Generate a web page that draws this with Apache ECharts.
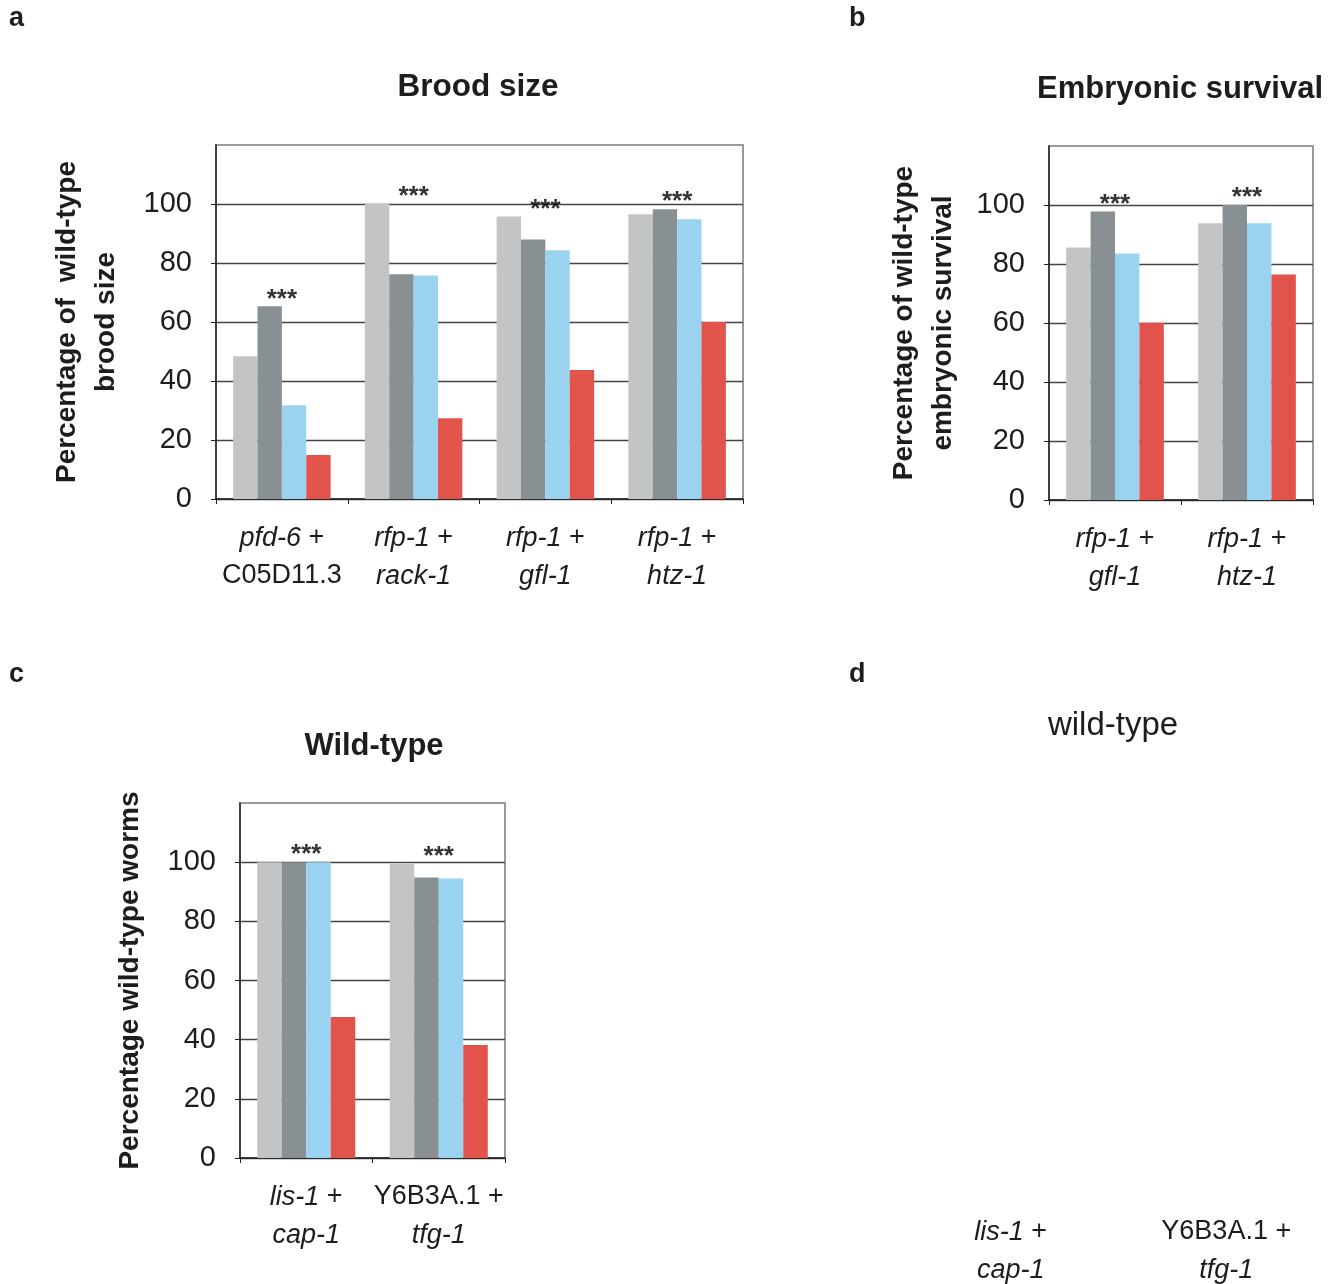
<!DOCTYPE html>
<html><head><meta charset="utf-8">
<script src="https://cdn.jsdelivr.net/npm/echarts@6/dist/echarts.min.js"></script>
<style>html,body{margin:0;padding:0;background:#fff}#c{width:1334px;height:1284px}</style>
</head><body><div id="c"></div>
<script>
// ---------- data ----------
const seriesNames = ['control', 'RNAi 1', 'RNAi 2', 'double RNAi'];
const colors = ['#c3c4c6', '#899093', '#9ad3f0', '#e2534b'];
const yTicks = [0, 20, 40, 60, 80, 100];

const catsA = ['pfd-6 + C05D11.3', 'rfp-1 + rack-1', 'rfp-1 + gfl-1', 'rfp-1 + htz-1'];
const a1 = [48.4, 100, 95.8, 96.5];
const a2 = [65.3, 76.2, 88.0, 98.2];
const a3 = [31.8, 75.8, 84.3, 94.8];
const a4 = [14.9, 27.4, 43.7, 60.0];
const sigA = ['***', '***', '***', '***'];

const catsB = ['rfp-1 + gfl-1', 'rfp-1 + htz-1'];
const b1 = [85.6, 93.8];
const b2 = [97.8, 100];
const b3 = [83.6, 93.8];
const b4 = [60.1, 76.4];
const sigB = ['***', '***'];

const catsC = ['lis-1 + cap-1', 'Y6B3A.1 + tfg-1'];
const c1 = [100, 99.5];
const c2 = [100, 94.8];
const c3 = [100, 94.5];
const c4 = [47.7, 38.2];
const sigC = ['***', '***'];

const catsD = ['lis-1 + cap-1', 'Y6B3A.1 + tfg-1'];

// ---------- helpers ----------
const FF = '"Liberation Sans", Arial, Helvetica, sans-serif';
const TXT = '#1e1c1d';
function catFormatter(v) {
  const parts = v.split(' + ');
  const st = s => /^[a-z]/.test(s) ? 'i' : 'r';
  return '{' + st(parts[0]) + '|' + parts[0] + '}{r| +}\n{' + st(parts[1]) + '|' + parts[1] + '}';
}
const rich = {
  i: { fontStyle: 'italic', fontSize: 27, fontFamily: FF, color: TXT, lineHeight: 38 },
  r: { fontStyle: 'normal', fontSize: 27, fontFamily: FF, color: TXT, lineHeight: 38 }
};

const grids = [], xAxes = [], yAxes = [], series = [];
function panel(rect, cats, vals, sig, yName, nameGap) {
  const gi = grids.length;
  grids.push(Object.assign({ show: true, borderColor: '#9a9a9a', borderWidth: 2, backgroundColor: 'transparent' }, rect));
  xAxes.push({
    type: 'category', gridIndex: gi, data: cats, boundaryGap: true,
    axisLine: { show: true, lineStyle: { color: '#222', width: 1.5 } },
    axisTick: { show: true, length: 5, inside: false, lineStyle: { color: '#222', width: 1 } },
    axisLabel: { margin: 20, formatter: catFormatter, rich: rich, interval: 0 },
    splitLine: { show: false }
  });
  yAxes.push({
    type: 'value', gridIndex: gi, min: 0, max: 120, interval: 20,
    name: yName, nameLocation: 'middle', nameRotate: 90, nameGap: nameGap,
    nameTextStyle: { fontFamily: FF, fontSize: 28, fontWeight: 'bold', color: TXT, lineHeight: 39 },
    axisLine: { show: true, lineStyle: { color: '#222', width: 1.5 } },
    axisTick: { show: true, length: 5, customValues: yTicks, lineStyle: { color: '#222' } },
    axisLabel: { margin: 24, customValues: yTicks, fontFamily: FF, fontSize: 29, color: TXT },
    splitLine: { show: true, lineStyle: { color: '#444', width: 1.3 } }
  });
  vals.forEach((v, k) => {
    series.push({
      type: 'bar', name: seriesNames[k], xAxisIndex: gi, yAxisIndex: gi, data: v,
      itemStyle: { color: colors[k] }, barGap: '0%', barCategoryGap: '26%', silent: true
    });
  });
  series.push({
    type: 'scatter', xAxisIndex: gi, yAxisIndex: gi, symbolSize: 1, silent: true,
    itemStyle: { color: 'rgba(0,0,0,0)' },
    data: cats.map((c, i) => [i, Math.max.apply(null, vals.map(v => v[i]))]),
    label: {
      show: true, position: 'inside', offset: [0, -7], align: 'center', verticalAlign: 'middle',
      formatter: p => sig[p.dataIndex], fontFamily: FF, fontSize: 26, fontWeight: 'bold', color: '#000'
    }
  });
}

panel({ left: 216, top: 145, width: 527, height: 354 }, catsA, [a1, a2, a3, a4], sigA,
  'Percentage of  wild-type\nbrood size', 90);
panel({ left: 1049, top: 146, width: 264, height: 354 }, catsB, [b1, b2, b3, b4], sigB,
  'Percentage of wild-type\nembryonic survival', 86);
panel({ left: 240, top: 803, width: 265, height: 355 }, catsC, [c1, c2, c3, c4], sigC,
  'Percentage wild-type worms', 90);

// panel d: only category labels, no axes
grids.push({ left: 903, top: 838, width: 432, height: 355, show: false });
xAxes.push({
  type: 'category', gridIndex: 3, data: catsD, boundaryGap: true,
  axisLine: { show: false }, axisTick: { show: false }, splitLine: { show: false },
  axisLabel: { margin: 20, formatter: catFormatter, rich: rich, interval: 0 }
});
yAxes.push({ type: 'value', gridIndex: 3, min: 0, max: 120, show: false });
series.push({ type: 'bar', xAxisIndex: 3, yAxisIndex: 3, data: catsD.map(() => null), silent: true });

function txt(x, y, text, size, weight, align) {
  return { type: 'text', x: x, y: y, silent: true,
    style: { text: text, font: (weight || 'normal') + ' ' + size + 'px ' + FF, fill: TXT,
      textAlign: align || 'center', textVerticalAlign: 'middle' } };
}
const graphics = [
  txt(9, 19, 'a', 27, 'bold', 'left'),
  txt(849, 19, 'b', 27, 'bold', 'left'),
  txt(9, 675, 'c', 27, 'bold', 'left'),
  txt(849, 675, 'd', 27, 'bold', 'left'),
  txt(478, 87, 'Brood size', 31.5, 'bold'),
  txt(1180, 89, 'Embryonic survival', 31, 'bold'),
  txt(374, 746, 'Wild-type', 31, 'bold'),
  txt(1113, 726, 'wild-type', 33, 'normal')
];

const chart = echarts.init(document.getElementById('c'), null, { renderer: 'canvas' });
chart.setOption({
  animation: false,
  backgroundColor: '#fff',
  grid: grids, xAxis: xAxes, yAxis: yAxes, series: series,
  graphic: graphics
});
</script></body></html>
